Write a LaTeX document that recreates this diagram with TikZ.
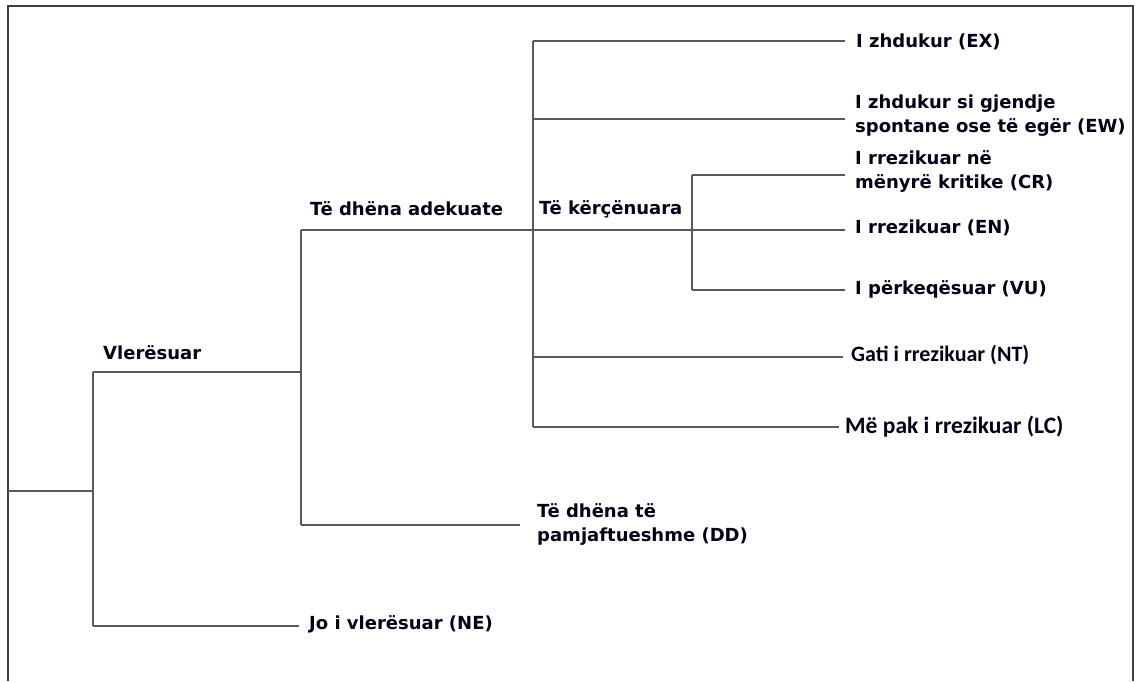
\documentclass[tikz,border=0pt]{standalone}
\usepackage{fontspec}
\setmainfont{DejaVu Sans}
\newfontfamily\calfont{Carlito}
\begin{document}
\begin{tikzpicture}[x=1pt,y=-1pt,
  lbl/.style={anchor=west,inner sep=0pt,font=\fontsize{18}{24}\selectfont\bfseries,text=black!90!blue,align=left},
  lblc/.style={anchor=west,inner sep=0pt,font=\fontsize{22}{24}\selectfont\calfont\bfseries,text=black!90!blue},
  conn/.style={draw=black!65,line width=1.6pt},
  frame/.style={draw=black!75,line width=1.8pt}]
\useasboundingbox (0,0) rectangle (1135,681);
\coordinate (fbl) at (8,681);
\coordinate (ftl) at (8,6);
\coordinate (ftr) at (1133,6);
\coordinate (fbr) at (1133,681);
\draw[frame] (fbl) -- (ftl) -- (ftr) -- (fbr);
% labels
\node[lbl] (VL) at (103,353) {Vlerësuar};
\node[lbl] (AD) at (310,209) {Të dhëna adekuate};
\node[lbl] (KE) at (539,209) {Të kërçënuara};
\node[lbl] (NE) at (309,624) {Jo i vlerësuar (NE)};
\node[lbl] (DD) at (537,524) {Të dhëna të\\pamjaftueshme (DD)};
\node[lbl] (EX) at (856,42) {I zhdukur (EX)};
\node[lbl] (EW) at (855,116) {I zhdukur si gjendje\\spontane ose të egër (EW)};
\node[lbl] (CR) at (855,171) {I rrezikuar në\\mënyrë kritike (CR)};
\node[lbl] (EN) at (855,228) {I rrezikuar (EN)};
\node[lbl] (VU) at (855,289) {I përkeqësuar (VU)};
\node[lblc] (NT) at (851,355) {Gati i rrezikuar (NT)};
\node[lblc,font=\fontsize{23.5}{24}\selectfont\calfont\bfseries] (LC) at (845,427) {Më pak i rrezikuar (LC)};
% junctions
\coordinate (root) at (8,491);
\coordinate (a1) at (93,372);
\coordinate (a2) at (93,626);
\coordinate (b1) at (301,230);
\coordinate (b2) at (301,525);
\coordinate (c1) at (533,41);
\coordinate (c2) at (533,427);
\coordinate (d1) at (692,175);
\coordinate (d2) at (692,290);
\coordinate (cEW) at (533,119);
\coordinate (cNT) at (533,357);
% connectors
\draw[conn] (root) -- (root -| a1);
\draw[conn] (a1) -- (a2);
\draw[conn] (a1) -- (a1 -| b1);
\draw[conn,shorten >=10pt] (a2) -- (a2 -| NE.west);
\draw[conn] (b1) -- (b2);
\draw[conn,shorten >=17pt] (b2) -- (b2 -| DD.west);
\draw[conn,shorten >=10pt] (b1) -- (b1 -| EN.west);
\draw[conn] (c1) -- (c2);
\draw[conn,shorten >=11pt] (c1) -- (c1 -| EX.west);
\draw[conn,shorten >=10pt] (cEW) -- (cEW -| EW.west);
\draw[conn,shorten >=8pt] (cNT) -- (cNT -| NT.west);
\draw[conn,shorten >=6pt] (c2) -- (c2 -| LC.west);
\draw[conn] (d1) -- (d2);
\draw[conn,shorten >=10pt] (d1) -- (d1 -| CR.west);
\draw[conn,shorten >=10pt] (d2) -- (d2 -| VU.west);
\end{tikzpicture}
\end{document}
